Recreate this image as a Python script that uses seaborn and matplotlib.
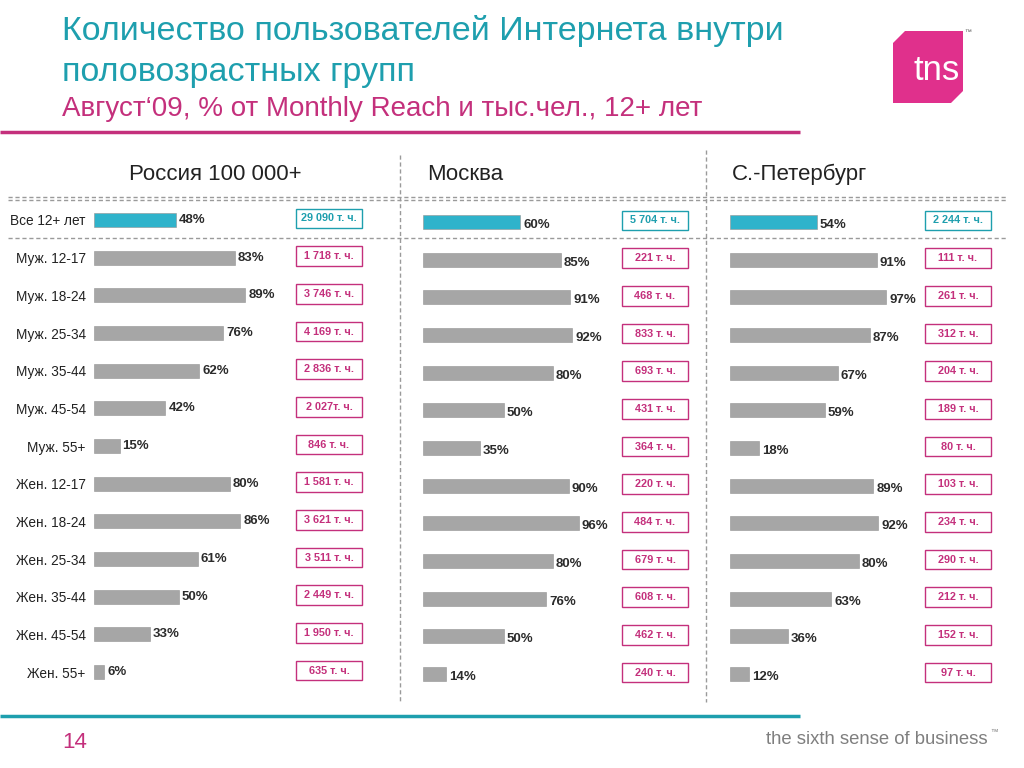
import matplotlib
matplotlib.use('Agg')
import matplotlib.pyplot as plt
import matplotlib.patches as mpatches
import matplotlib.transforms as mtransforms
import pandas as pd
import seaborn as sns

# Data
groups = ['Все 12+ лет', 'Муж. 12-17', 'Муж. 18-24', 'Муж. 25-34', 'Муж. 35-44',
          'Муж. 45-54', 'Муж. 55+', 'Жен. 12-17', 'Жен. 18-24', 'Жен. 25-34',
          'Жен. 35-44', 'Жен. 45-54', 'Жен. 55+']
panel_titles = ['Россия 100 000+', 'Москва', 'С.-Петербург']
russia_pct = [48, 83, 89, 76, 62, 42, 15, 80, 86, 61, 50, 33, 6]
moscow_pct = [60, 85, 91, 92, 80, 50, 35, 90, 96, 80, 76, 50, 14]
spb_pct = [54, 91, 97, 87, 67, 59, 18, 89, 92, 80, 63, 36, 12]
russia_ths = ['29 090 т. ч.', '1 718 т. ч.', '3 746 т. ч.', '4 169 т. ч.', '2 836 т. ч.',
              '2 027т. ч.', '846 т. ч.', '1 581 т. ч.', '3 621 т. ч.', '3 511 т. ч.',
              '2 449 т. ч.', '1 950 т. ч.', '635 т. ч.']
moscow_ths = ['5 704 т. ч.', '221 т. ч.', '468 т. ч.', '833 т. ч.', '693 т. ч.',
              '431 т. ч.', '364 т. ч.', '220 т. ч.', '484 т. ч.', '679 т. ч.',
              '608 т. ч.', '462 т. ч.', '240 т. ч.']
spb_ths = ['2 244 т. ч.', '111 т. ч.', '261 т. ч.', '312 т. ч.', '204 т. ч.',
           '189 т. ч.', '80 т. ч.', '103 т. ч.', '234 т. ч.', '290 т. ч.',
           '212 т. ч.', '152 т. ч.', '97 т. ч.']

title1 = 'Количество пользователей Интернета внутри'
title2 = 'половозрастных групп'
subtitle = 'Август‘09, % от Monthly Reach и тыс.чел., 12+ лет'

teal = '#1e9fae'
pink = '#c4307c'
logo_pink = '#e0308c'
bar_teal = '#2fb3cb'
bar_gray = '#a6a6a6'
dash_gray = '#9a9a9a'

sns.set_style('white')
plt.rcParams['font.family'] = ['Liberation Sans', 'DejaVu Sans']

W, H = 1024, 768
fig = plt.figure(figsize=(10.24, 7.68), dpi=100)

# background axes in pixel units for the decorations
bg = fig.add_axes([0, 0, 1, 1])
bg.set_xlim(0, W)
bg.set_ylim(H, 0)
bg.axis('off')

# Header
bg.text(62, 31, title1, color=teal, fontsize=24.5, va='center')
bg.text(62, 73, title2, color=teal, fontsize=24.5, va='center')
bg.text(62, 109, subtitle, color=pink, fontsize=20, va='center')
bg.plot([0, 800], [132, 132], color=pink, lw=2.5, solid_capstyle='butt')

# tns logo
logo = mpatches.Polygon([(905, 31), (963, 31), (963, 91), (951, 103), (893, 103), (893, 43)],
                        closed=True, facecolor=logo_pink, edgecolor='none')
bg.add_patch(logo)
bg.text(937, 71, 'tns', color='white', fontsize=25, ha='center', va='center')
bg.text(968, 33, '™', color='#555555', fontsize=5, ha='center', va='center')

# Dashed grid
dash = dict(color=dash_gray, lw=1, linestyle=(0, (3, 2)))
bg.plot([8, 1008], [197, 197], **dash)
bg.plot([8, 1008], [200, 200], **dash)
bg.plot([8, 1008], [238, 238], **dash)
bg.plot([400, 400], [155, 702], **dash)
bg.plot([706, 706], [150, 702], **dash)

# Footer
bg.plot([0, 800], [716, 716], color=teal, lw=2.5, solid_capstyle='butt')
bg.text(62, 743, '14', color=pink, fontsize=16, va='center')
bg.text(766, 740, 'the sixth sense of business', color='#7f7f7f', fontsize=13.3, va='center')
bg.text(990, 733, '™', color='#7f7f7f', fontsize=5.5, va='center')

# Panels: bar origin (px), px per %, first row y (px), box left (px)
panels = [
    (russia_pct, russia_ths, 94, 1.70, 220, 296),
    (moscow_pct, moscow_ths, 423, 1.62, 222, 622),
    (spb_pct, spb_ths, 730, 1.61, 222, 925),
]
title_pos = [(215, 174, 'center'), (427, 174, 'left'), (732, 174, 'left')]
row_h = 37.67

for k, (pct, ths, x0, scale, y0, bx) in enumerate(panels):
    top = y0 - row_h / 2
    height = row_h * len(groups)
    ax = fig.add_axes([x0 / W, 1 - (top + height) / H, 100 * scale / W, height / H])
    ax.patch.set_alpha(0)
    df = pd.DataFrame({'group': groups, 'pct': pct,
                       'kind': ['all'] + ['sub'] * (len(groups) - 1)})
    sns.barplot(data=df, y='group', x='pct', hue='kind', orient='h', dodge=False,
                palette={'all': bar_teal, 'sub': bar_gray}, width=0.37, saturation=1,
                edgecolor='#939393', linewidth=0.4, legend=False, ax=ax)
    ax.set_xlim(0, 100)
    ax.set_ylim(len(groups) - 0.5, -0.5)
    ax.set_xlabel('')
    ax.set_ylabel('')
    ax.set_xticks([])
    sns.despine(ax=ax, left=True, bottom=True)
    ax.tick_params(axis='y', length=0, pad=6, labelsize=9.8, labelcolor='#222222')
    if k > 0:
        ax.set_yticklabels([])

    dy = 0.0 if k == 0 else 0.08
    for i, v in enumerate(pct):
        ax.text(v + 3 / scale, i + dy, f'{v}%', va='center', ha='left',
                fontsize=9.5, fontweight='bold', color='#2b2b2b')

    tr = mtransforms.blended_transform_factory(bg.transData, ax.transData)
    for i, t in enumerate(ths):
        c = teal if i == 0 else pink
        box = mpatches.Rectangle((bx, i - 0.3), 66, 0.52, transform=tr,
                                 facecolor='white', edgecolor=c, lw=1, clip_on=False)
        ax.add_patch(box)
        ax.text(bx + 33, i - 0.04, t, transform=tr, ha='center', va='center',
                fontsize=7.8, fontweight='bold', color=c, clip_on=False)

    tx, ty, ha = title_pos[k]
    bg.text(tx, ty, panel_titles[k], fontsize=16, ha=ha, va='center', color='#222222')

fig.savefig('out.png', dpi=100)
